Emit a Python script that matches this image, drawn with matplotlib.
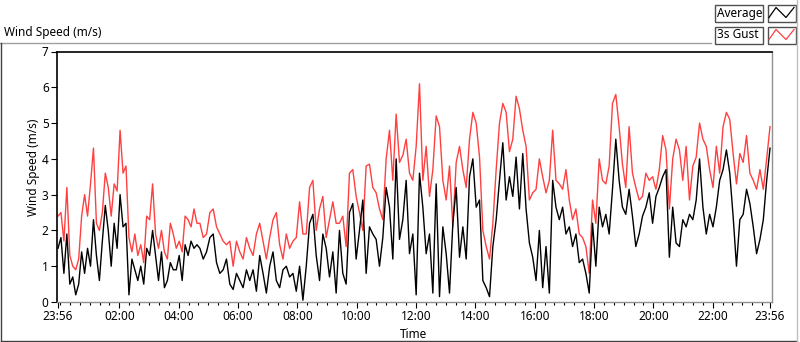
import numpy as np
import matplotlib
matplotlib.use("Agg")
import matplotlib.pyplot as plt
from matplotlib.lines import Line2D
from matplotlib.patches import Rectangle

plt.rcParams['font.family'] = ['Noto Sans', 'DejaVu Sans']

# ---------------- data (minutes after 23:56) ----------------
segment_edges_min = [0, 287, 576, 866, 1155, 1440]

gust_seg1 = [2.4, 2.5, 1.7, 3.2, 1.3, 1.0, 0.9, 1.2, 2.4, 3.0, 2.4, 3.3, 4.3, 2.2, 2.0, 2.5,
             3.6, 3.2, 2.4, 3.3, 3.1, 4.8, 3.6, 3.8, 1.8, 1.4, 1.9, 1.3, 1.6, 1.1, 2.4, 2.3,
             3.3, 1.9, 1.5, 2.0, 1.4, 1.2, 2.2, 1.9, 1.5, 1.7, 1.4, 2.4, 2.3, 2.1, 2.6, 2.2]
avg_seg1 = [1.5, 1.8, 0.8, 1.9, 0.5, 0.7, 0.2, 0.5, 1.4, 0.8, 1.5, 1.0, 2.3, 1.3, 0.6, 1.7,
            2.7, 2.0, 1.0, 2.2, 1.5, 3.0, 2.1, 2.2, 0.2, 1.2, 0.9, 0.6, 1.0, 0.5, 1.5, 1.3,
            2.0, 1.3, 0.6, 1.4, 0.4, 0.6, 1.1, 0.9, 0.9, 1.3, 0.6, 1.6, 1.3, 1.7, 1.5, 1.6]

gust_seg2 = [2.2, 1.8, 1.9, 2.5, 2.6, 2.1, 1.9, 1.7, 1.6, 1.7, 1.0, 1.7, 1.4, 1.2, 1.8, 1.5,
             1.3, 1.9, 2.2, 1.7, 1.2, 1.8, 2.3, 2.5, 1.6, 1.2, 1.9, 1.5, 1.7, 1.8, 2.8, 1.9,
             1.9, 3.2, 3.4, 2.0, 2.6, 2.95, 1.8, 2.3, 2.8, 2.2, 2.2]
avg_seg2 = [1.5, 1.2, 1.4, 1.8, 1.9, 1.1, 0.8, 0.9, 1.2, 0.5, 0.35, 0.8, 0.6, 0.4, 0.9, 0.6,
            0.9, 0.3, 1.3, 0.8, 0.25, 1.0, 1.4, 0.6, 0.4, 0.9, 1.0, 0.7, 0.8, 0.3, 1.0, 0.05,
            1.0, 2.2, 2.45, 1.3, 0.6, 1.9, 1.5, 0.7, 1.4, 0.25, 2.0]

gust_seg3 = [2.4, 1.55, 3.6, 3.7, 2.95, 2.5, 2.0, 3.8, 3.85, 3.2, 3.05, 2.6, 2.3, 4.0, 4.8, 3.4,
             5.25, 3.9, 4.1, 4.55, 3.6, 3.4, 4.35, 6.1, 3.4, 4.35, 2.95, 3.7, 5.2, 4.9, 3.4, 2.85,
             3.8, 2.1, 3.9, 4.35, 3.7, 3.2, 4.55, 5.3, 5.0, 4.05, 2.0]
avg_seg3 = [0.8, 0.5, 2.5, 2.75, 1.2, 2.0, 2.85, 0.8, 2.1, 1.9, 1.75, 1.0, 1.8, 3.2, 2.65, 1.2,
            4.0, 1.75, 2.3, 3.4, 1.35, 1.9, 0.2, 3.6, 2.65, 1.35, 1.9, 0.25, 3.3, 0.15, 2.1, 1.35,
            0.25, 2.2, 3.2, 1.25, 2.1, 1.2, 3.5, 4.0, 2.65, 2.85, 0.6]

gust_seg4 = [1.55, 1.2, 2.2, 3.7, 5.0, 5.55, 5.3, 4.2, 4.55, 5.75, 5.4, 4.8, 4.35, 2.85, 3.05, 3.15,
             4.0, 3.5, 3.05, 3.4, 4.8, 3.4, 3.3, 3.15, 3.7, 2.85, 2.3, 2.6, 1.9, 1.8, 1.55, 0.8,
             2.85, 2.2, 4.0, 3.4, 3.3, 3.8, 5.55, 5.8, 4.9, 3.85, 3.2]
avg_seg4 = [0.4, 0.15, 1.55, 2.3, 3.4, 4.45, 2.85, 3.5, 2.95, 4.05, 2.6, 4.15, 2.6, 1.65, 1.25, 0.6,
            2.0, 0.4, 1.55, 0.25, 3.4, 2.65, 2.3, 2.65, 1.9, 2.1, 1.55, 1.9, 1.1, 1.2, 0.8, 0.25,
            2.2, 1.0, 2.65, 2.1, 2.45, 1.9, 3.15, 4.55, 3.4, 2.65, 2.45]

gust_seg5 = [4.9, 3.6, 3.2, 2.85, 2.95, 3.6, 3.4, 3.5, 3.15, 3.7, 4.65, 4.25, 2.6, 4.0, 4.55, 4.25,
             3.4, 4.35, 2.85, 3.8, 4.05, 5.0, 4.55, 4.35, 3.7, 3.2, 4.35, 3.6, 4.9, 5.3, 5.1, 4.15,
             3.3, 4.15, 3.9, 4.65, 3.6, 3.4, 3.15, 3.7, 3.15, 4.0, 4.9]
avg_seg5 = [3.15, 2.4, 1.55, 1.9, 2.4, 2.65, 3.05, 2.2, 2.95, 3.2, 3.5, 3.7, 1.25, 2.65, 1.65, 1.55,
            2.3, 2.1, 2.45, 2.3, 2.85, 4.0, 2.65, 1.9, 2.45, 2.1, 2.65, 3.4, 3.7, 4.25, 3.6, 2.4,
            1.0, 2.3, 2.45, 3.15, 2.75, 2.1, 1.35, 1.75, 2.3, 3.4, 4.3]

major_tick_min = [0, 124, 244, 364, 484, 604, 724, 844, 964, 1084, 1204, 1324, 1440]
major_tick_labels = ["23:56", "02:00", "04:00", "06:00", "08:00", "10:00", "12:00",
                     "14:00", "16:00", "18:00", "20:00", "22:00", "23:56"]
y_ticks = [0, 1, 2, 3, 4, 5, 6, 7]
series_names = ["Average", "3s Gust"]

# ---------------- build series ----------------
gust_segs = [gust_seg1, gust_seg2, gust_seg3, gust_seg4, gust_seg5]
avg_segs = [avg_seg1, avg_seg2, avg_seg3, avg_seg4, avg_seg5]
t_all, g_all, a_all = [], [], []
for i, (g, a) in enumerate(zip(gust_segs, avg_segs)):
    t0, t1 = segment_edges_min[i], segment_edges_min[i + 1]
    n = len(g)
    last = (i == len(gust_segs) - 1)
    t = np.linspace(t0, t1, n, endpoint=last)
    t_all.extend(t)
    g_all.extend(g)
    a_all.extend(a)
t_all = np.array(t_all)

W, H = 800, 342
fig = plt.figure(figsize=(W / 100, H / 100), dpi=100)

def fx(x):
    return x / W

def fy(y):
    return 1 - y / H

ax = fig.add_axes([fx(57), fy(302), fx(772) - fx(57), fy(51.5) - fy(302)])
ax.plot(t_all, g_all, color='#ff4040', lw=1.0)
ax.plot(t_all, a_all, color='black', lw=1.0)
ax.set_xlim(-2, 1444)
ax.set_ylim(0, 7)

ax.set_xticks(major_tick_min)
ax.set_xticklabels(major_tick_labels)
ax.set_xticks(np.arange(4, 1440, 20), minor=True)
ax.set_yticks(y_ticks)
ax.set_yticklabels([str(v) for v in y_ticks])
ax.tick_params(axis='both', which='major', direction='out', length=4, width=0.8,
               labelsize=8.5, pad=2, colors='black')
ax.tick_params(axis='x', which='minor', direction='out', length=2.5, width=0.8, color='black')
for s in ['left', 'top']:
    ax.spines[s].set_color('black')
    ax.spines[s].set_linewidth(1.2)
for s in ['right', 'bottom']:
    ax.spines[s].set_color('#909090')
    ax.spines[s].set_linewidth(1.0)

# texts
fig.text(fx(4), fy(32.5), "Wind Speed (m/s)", fontsize=8.5, ha='left', va='center')
fig.text(fx(33), fy(167), "Wind Speed (m/s)", fontsize=8.5, ha='center', va='center', rotation=90)
fig.text(fx(414), fy(334), "Time", fontsize=8.5, ha='center', va='center')

# outer frame
fig.add_artist(Line2D([fx(0), fx(711)], [fy(42.5), fy(42.5)], color='#a0a0a0', lw=1))
fig.add_artist(Line2D([fx(0.5), fx(0.5)], [fy(42.5), fy(340.5)], color='#404040', lw=1))
fig.add_artist(Line2D([fx(0.5), fx(797)], [fy(340.5), fy(340.5)], color='#404040', lw=1))
fig.add_artist(Line2D([fx(797), fx(797)], [fy(0), fy(340.5)], color='#c0c0c0', lw=1))

# legend
colors = ['black', '#ff4040']
for i, (name, c) in enumerate(zip(series_names, colors)):
    top = 4.5 + 22 * i
    fig.add_artist(Rectangle((fx(714.5), fy(top + 17)), fx(48), fy(0) - fy(17),
                             facecolor='white', edgecolor='#505050', lw=1))
    fig.add_artist(Rectangle((fx(767.5), fy(top + 17)), fx(28), fy(0) - fy(17),
                             facecolor='white', edgecolor='#505050', lw=1))
    fig.text(fx(717), fy(top + 8.5), name, fontsize=8.5, ha='left', va='center')
    zx = [769, 776, 786, 794]
    zy = [top + 13, top + 3, top + 13, top + 3]
    fig.add_artist(Line2D([fx(v) for v in zx], [fy(v) for v in zy], color=c, lw=0.9))

fig.savefig("out.png", dpi=100)
